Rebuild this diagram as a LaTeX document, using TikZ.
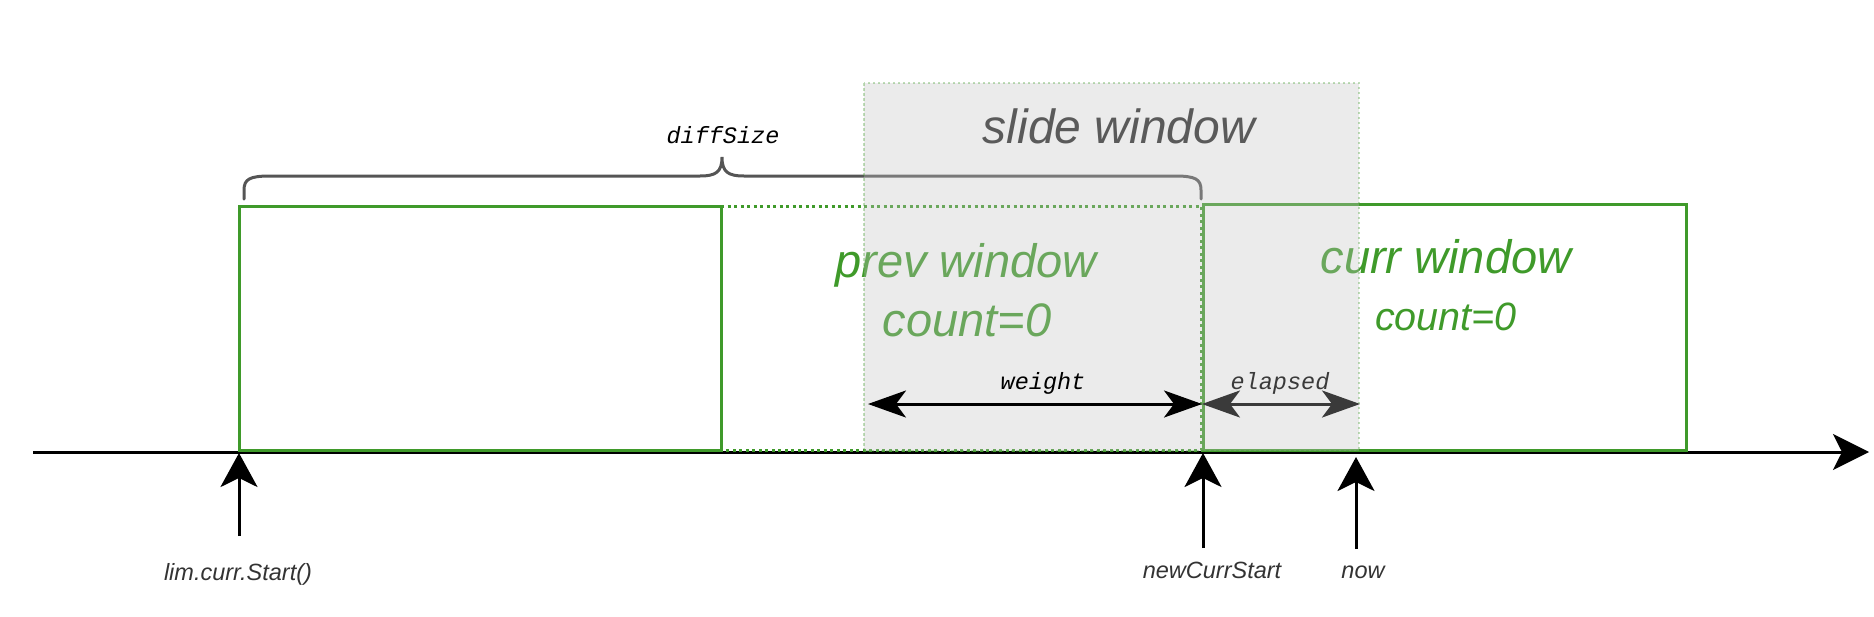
\documentclass[tikz,border=0pt]{standalone}
\usepackage{fontspec}
\setmainfont{Liberation Sans}
\newfontfamily\monofont{Liberation Mono}
\usetikzlibrary{arrows.meta}
\definecolor{wgreen}{HTML}{3F9A2A}
\definecolor{lblgray}{HTML}{333333}
\definecolor{bracegray}{HTML}{555555}
\definecolor{slidegray}{HTML}{C2C2C2}
\definecolor{slidetext}{HTML}{5A5A5A}
\definecolor{elapsedgray}{HTML}{3A3A3A}
\tikzset{
  axisline/.style={line width=3pt, black, -{Stealth[length=36pt,width=36pt,inset=9pt]}},
  uparrow/.style={line width=3pt, black, -{Stealth[length=34pt,width=37pt,inset=9pt]}},
  dimarrow/.style={line width=3pt, {Stealth[length=38pt,width=27pt,inset=10pt]}-{Stealth[length=38pt,width=27pt,inset=10pt]}},
  winsolid/.style={line width=3pt, wgreen},
  windotted/.style={line width=3pt, wgreen, dash pattern=on 3pt off 3.5pt},
  bracestyle/.style={line width=3pt, bracegray, line cap=round},
  bigtext/.style={anchor=base, inner sep=0pt, text=wgreen, font=\fontsize{47}{56}\selectfont\itshape},
  lbltext/.style={anchor=base, inner sep=0pt, text=lblgray, font=\fontsize{23.5}{28}\selectfont\itshape},
  codetext/.style={anchor=base, inner sep=0pt, font=\monofont\fontsize{23.5}{28}\selectfont\itshape},
}
\begin{document}
\begin{tikzpicture}[x=1pt,y=-1pt]
\useasboundingbox (0,0) rectangle (1874,616);

% axis
\coordinate (axL) at (33,452);
\coordinate (axR) at (1869,452);
\draw[axisline] (axL) -- (axR);

% windows
\draw[winsolid] (239,450) rectangle (721,206);
\draw[windotted] (721,206) -- (1201,206) -- (1201,450) -- (721,450);
\draw[winsolid] (1203,450) rectangle (1686,204);

% brace
\draw[bracestyle] (244,199) -- (244,190) .. controls (244,179) and (250,176) .. (270,176)
  -- (700,176) .. controls (716,176) and (722,172) .. (722,157)
  .. controls (722,172) and (728,176) .. (744,176)
  -- (1175,176) .. controls (1195,176) and (1201,179) .. (1201,190) -- (1201,199);

% window texts
\node[bigtext] (prevw) at (966,277) {prev window};
\node[bigtext] (prevc) at (967,336) {count=0};
\node[bigtext] (currw) at (1446,273) {curr window};
\node[bigtext, font=\fontsize{39.5}{47}\selectfont\itshape] (currc) at (1446,330) {count=0};

% slide window overlay
\fill[slidegray, fill opacity=0.33] (864,83) rectangle (1359,451);
\draw[wgreen, draw opacity=0.33, line width=2.5pt, dash pattern=on 2.5pt off 2.5pt] (864,83) rectangle (1359,451);
\node[anchor=base, inner sep=0pt, text=slidetext, font=\fontsize{48}{57}\selectfont\itshape] (slidew) at (1119,143) {slide window};

% diffSize label
\node[codetext] (diff) at (723,143) {diffSize};

% weight / elapsed
\coordinate (wL) at (868,404);
\coordinate (wR) at (1202,404);
\coordinate (eR) at (1360,404);
\draw[dimarrow, black] (wL) -- (wR);
\draw[dimarrow, elapsedgray] (wR) -- (eR);
\node[codetext] (weight) at (1043,389) {weight};
\node[codetext, text=elapsedgray] (elapsed) at (1280,389) {elapsed};

% up arrows
\coordinate (s1b) at (239,536);
\coordinate (s1t) at (239,453);
\coordinate (s2b) at (1203,548);
\coordinate (s2t) at (1203,453);
\coordinate (s3b) at (1356,549);
\coordinate (s3t) at (1356,457);
\draw[uparrow] (s1b) -- (s1t);
\draw[uparrow] (s2b) -- (s2t);
\draw[uparrow] (s3b) -- (s3t);

\node[lbltext] (lbl1) at (238,580) {lim.curr.Start()};
\node[lbltext] (lbl2) at (1212,578) {newCurrStart};
\node[lbltext] (lbl3) at (1363,578) {now};
\end{tikzpicture}
\end{document}
